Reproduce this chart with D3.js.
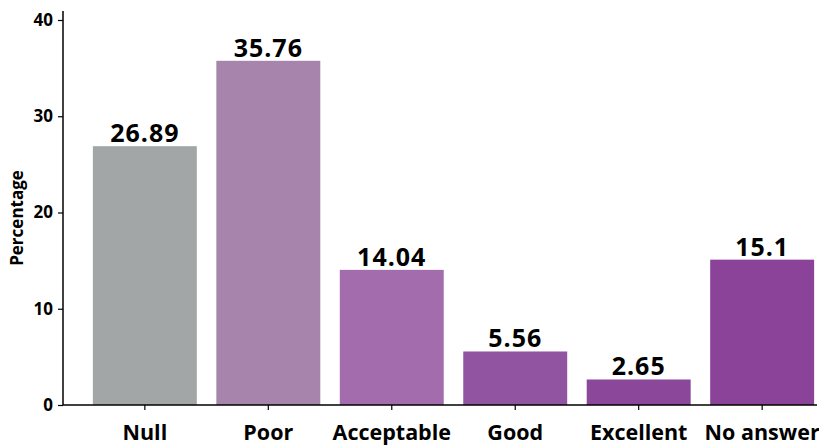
<!DOCTYPE html>
<html><head><meta charset="utf-8">
<script src="https://cdn.jsdelivr.net/npm/d3@7"></script>
<style>body{margin:0;background:#fff}svg{display:block}</style>
</head><body>
<script>
const categories = ["Null","Poor","Acceptable","Good","Excellent","No answer"];
const values = [26.89, 35.76, 14.04, 5.56, 2.65, 15.1];
const valueLabels = ["26.89","35.76","14.04","5.56","2.65","15.1"];
const colors = ["#a3a6a6","#a784ab","#a36cad","#9154a0","#8b489b","#8a4398"];
const yTicks = [0,10,20,30,40];

const W = 819, H = 447;
const svg = d3.select("body").append("svg").attr("width", W).attr("height", H);
const font = "'Open Sans', sans-serif";

const y = d3.scaleLinear().domain([0, 40]).range([405, 20]);
const x = d3.scaleBand().domain(categories).range([83, 824]).paddingInner(0.158).paddingOuter(0.08);

// bars
svg.selectAll("rect.bar").data(values).join("rect")
  .attr("class","bar")
  .attr("x", (d,i) => x(categories[i]))
  .attr("width", x.bandwidth())
  .attr("y", d => y(d))
  .attr("height", d => y(0) - y(d))
  .attr("fill", (d,i) => colors[i]);

// value labels
svg.selectAll("text.val").data(values).join("text")
  .attr("class","val")
  .attr("x", (d,i) => x(categories[i]) + x.bandwidth()/2)
  .attr("y", d => y(d) - 4)
  .attr("text-anchor","middle")
  .style("font-family", font).style("font-weight","700").style("font-size","25px")
  .style("letter-spacing","1px")
  .attr("fill","#000")
  .text((d,i) => valueLabels[i]);

// y axis
const yAxis = d3.axisLeft(y).tickValues(yTicks).tickSize(5).tickPadding(5).tickSizeOuter(0);
const gy = svg.append("g").attr("transform","translate(63,0)").call(yAxis);
gy.select(".domain").attr("d", "M0,11V405").attr("stroke","#000").attr("stroke-width",1.5);
gy.selectAll(".tick line").attr("stroke","#000").attr("stroke-width",1.2);
gy.selectAll(".tick text").style("font-family",font).style("font-weight","700").style("font-size","17px").attr("fill","#000");

// x axis
const xAxis = d3.axisBottom(x).tickSize(5).tickPadding(15).tickSizeOuter(0);
const gx = svg.append("g").attr("transform","translate(0,405)").call(xAxis);
gx.select(".domain").attr("d","M63,0H817").attr("stroke","#000").attr("stroke-width",1.5);
gx.selectAll(".tick line").attr("stroke","#000").attr("stroke-width",1.2);
gx.selectAll(".tick text").style("font-family",font).style("font-weight","700").style("font-size","21.5px").attr("fill","#000");

// y label
svg.append("text")
  .attr("transform","translate(23,218) rotate(-90)")
  .attr("text-anchor","middle")
  .style("font-family",font).style("font-weight","700").style("font-size","17px")
  .text("Percentage");
</script>
</body></html>
